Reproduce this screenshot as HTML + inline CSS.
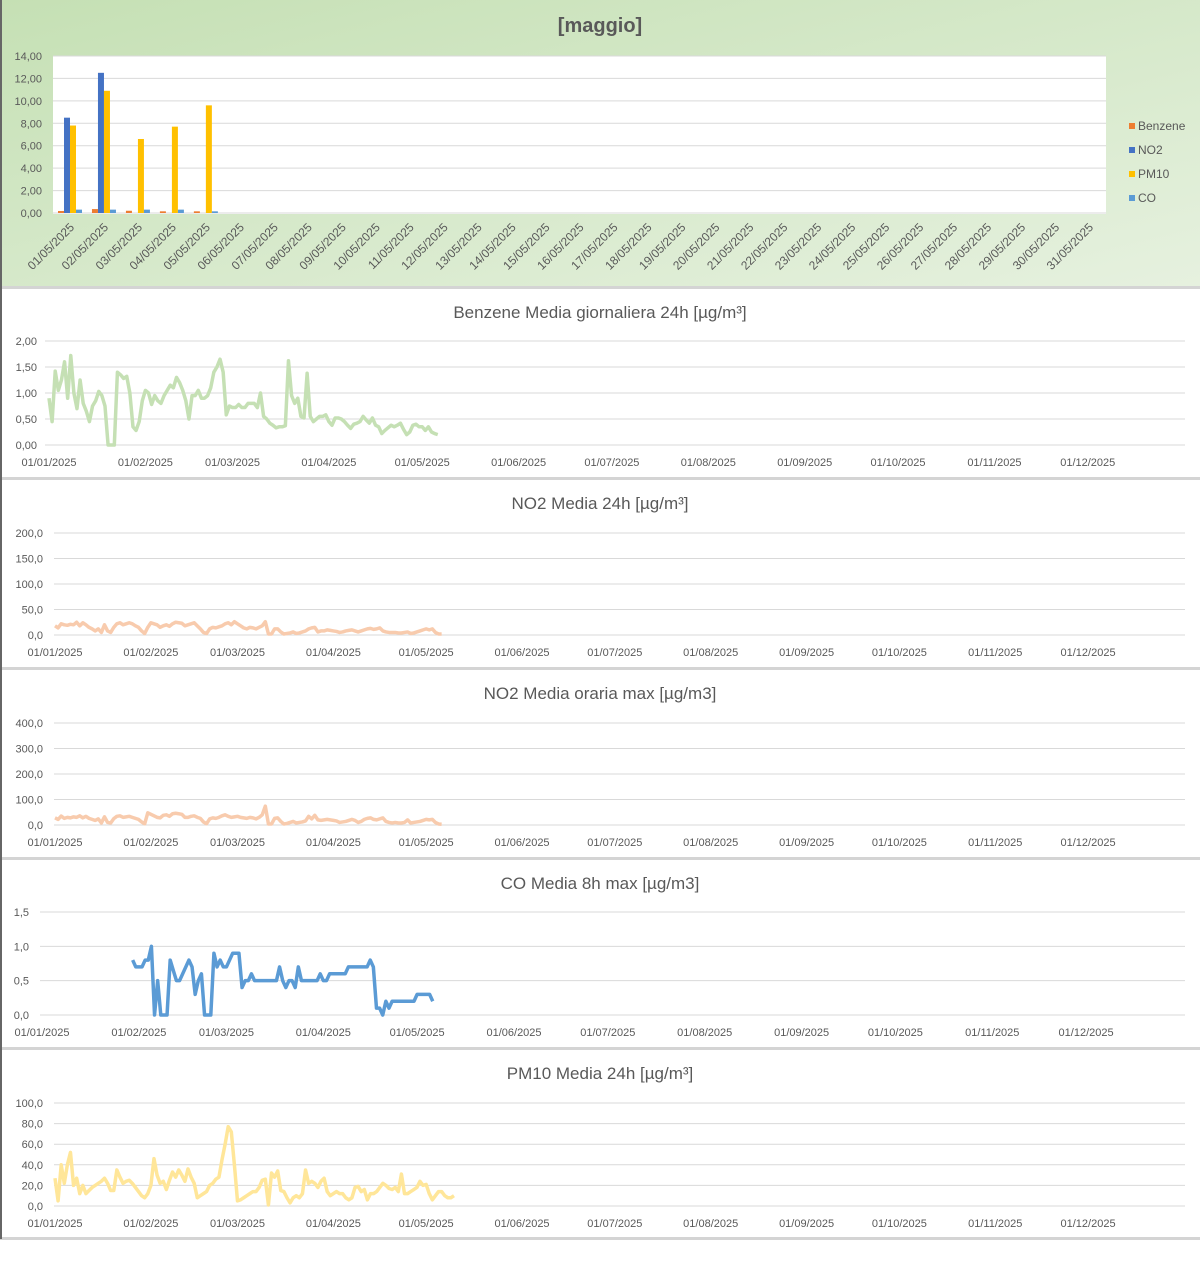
<!DOCTYPE html>
<html><head><meta charset="utf-8"><style>
body{margin:0;background:#fff;}
svg{display:block;font-family:"Liberation Sans",sans-serif;}
</style></head><body>
<svg id="c" width="1200" height="1267" viewBox="0 0 1200 1267">
<defs><linearGradient id="bg" x1="0" y1="0" x2="1" y2="1"><stop offset="0" stop-color="#c5e0b4"/><stop offset="1" stop-color="#e6f1df"/></linearGradient></defs>
<rect x="0" y="0" width="1200" height="286" fill="url(#bg)"/>
<text x="600" y="32" text-anchor="middle" font-size="20" font-weight="bold" fill="#595959">[maggio]</text>
<rect x="53" y="56" width="1053" height="158" fill="#fff"/>
<g id="bars"></g>
<g id="lines"></g>
<rect x="0" y="0" width="2" height="1239" fill="#666"/>
</svg>
<script>
const NS="http://www.w3.org/2000/svg";
const svg=document.getElementById('c');
function mk(tag,attrs,parent,txt){const e=document.createElementNS(NS,tag);for(const k in attrs)e.setAttribute(k,attrs[k]);if(txt!==undefined)e.textContent=txt;(parent||svg).appendChild(e);return e;}

// ---- bar chart data ----
const barDays=Array.from({length:31},(_,i)=>String(i+1).padStart(2,'0')+'/05/2025');
const barTicks=[0,2,4,6,8,10,12,14];
const benzeneBar=[0.18,0.35,0.2,0.15,0.15];
const no2Bar=[8.5,12.5,0,0,0];
const pm10Bar=[7.8,10.9,6.6,7.7,9.6];
const coBar=[0.3,0.3,0.3,0.3,0.15];

// ---- line chart data ----
const monthLabels=['01/01/2025','01/02/2025','01/03/2025','01/04/2025','01/05/2025','01/06/2025','01/07/2025','01/08/2025','01/09/2025','01/10/2025','01/11/2025','01/12/2025'];
const monthDays=[0,31,59,90,120,151,181,212,243,273,304,334];
const benzene=[0.9,0.45,1.42,1.05,1.25,1.6,0.9,1.72,1.0,0.7,1.25,0.8,0.65,0.45,0.75,0.85,1.03,0.95,0.75,0,0,0,1.4,1.35,1.28,1.32,1.0,0.35,0.28,0.45,0.85,1.05,1.0,0.78,0.95,0.85,0.8,0.95,1.05,1.15,1.1,1.3,1.2,1.05,0.85,0.5,0.95,0.95,1.05,0.9,0.9,0.95,1.1,1.4,1.5,1.65,1.4,0.58,0.75,0.72,0.72,0.78,0.72,0.72,0.8,0.8,0.8,0.72,1.0,0.55,0.5,0.42,0.38,0.33,0.35,0.35,0.37,1.62,0.95,0.8,0.9,0.55,0.52,1.38,0.55,0.45,0.5,0.55,0.55,0.58,0.45,0.38,0.52,0.52,0.5,0.45,0.38,0.32,0.4,0.42,0.45,0.55,0.48,0.42,0.52,0.38,0.35,0.22,0.28,0.33,0.38,0.35,0.38,0.42,0.3,0.2,0.25,0.38,0.4,0.35,0.35,0.28,0.35,0.25,0.22,0.2];
const no2Daily=[18,14,22,20,19,21,20,25,18,24,20,15,12,8,12,5,20,8,5,15,22,24,20,22,24,22,18,15,8,3,15,24,22,20,15,18,20,17,22,25,24,23,18,20,22,24,18,12,5,3,12,15,14,16,18,22,24,20,26,22,18,14,12,15,14,12,15,18,26,2,2,12,12,6,2,3,4,6,3,4,6,8,12,14,15,6,8,8,10,9,8,7,5,6,8,9,10,8,6,8,10,12,13,11,12,14,8,6,5,5,5,4,4,5,6,3,4,6,8,10,12,10,12,5,2,2];
const no2Max=[28,22,35,26,30,28,32,30,36,28,34,26,22,18,24,8,32,10,8,25,34,36,30,32,34,30,26,22,12,5,48,42,36,30,28,38,40,34,44,46,44,42,30,30,34,36,30,26,12,5,24,28,26,30,36,40,34,30,32,34,30,28,26,30,28,24,30,40,74,4,4,26,28,14,4,6,10,14,8,10,12,16,34,24,38,20,18,20,22,20,18,16,10,12,14,18,22,18,10,14,22,26,28,22,20,24,28,14,10,8,10,8,8,10,20,8,10,12,14,18,22,20,22,10,4,3];
const coStart=29;
const coValues=[0.8,0.7,0.7,0.7,0.8,0.8,1.0,0,0.5,0,0,0,0.8,0.65,0.5,0.5,0.6,0.7,0.8,0.7,0.3,0.5,0.6,0,0,0,0.9,0.7,0.8,0.7,0.7,0.8,0.9,0.9,0.9,0.4,0.5,0.5,0.6,0.5,0.5,0.5,0.5,0.5,0.5,0.5,0.5,0.7,0.5,0.4,0.5,0.5,0.4,0.7,0.5,0.5,0.5,0.5,0.5,0.5,0.6,0.5,0.5,0.6,0.6,0.6,0.6,0.6,0.6,0.7,0.7,0.7,0.7,0.7,0.7,0.7,0.8,0.7,0.1,0.1,0,0.2,0.1,0.2,0.2,0.2,0.2,0.2,0.2,0.2,0.2,0.3,0.3,0.3,0.3,0.3,0.2];
const pm10=[27,5,40,22,40,52,20,27,12,20,12,15,18,20,22,24,27,22,15,15,35,28,22,24,25,22,18,14,10,8,12,20,46,30,22,24,16,25,33,28,35,30,24,36,28,22,8,10,12,14,20,22,26,28,45,60,77,72,40,5,6,8,10,12,14,14,18,25,26,1,32,28,34,15,14,8,3,8,10,8,12,35,22,24,22,18,24,27,14,10,12,14,12,12,8,6,8,18,19,14,16,6,12,12,14,18,22,20,17,16,18,14,31,12,12,14,16,18,24,20,21,12,6,10,14,14,10,8,8,10];

// ---- bar chart ----
const bg=document.getElementById('bars');
const bx0=53,bw=1053/31,byTop=56,byBot=213,bmax=14;
const by=v=>byBot-(v/bmax)*(byBot-byTop);
barTicks.forEach(t=>{
  const l=mk('line',{x1:53,x2:1106,y1:by(t),y2:by(t),stroke:'#d9d9d9','stroke-width':1},bg);
  
  
  const tx=mk('text',{x:42,y:by(t)+4,'text-anchor':'end','font-size':11,fill:'#595959'},bg,t.toFixed(2).replace('.',','));
  
  
});
const series=[['benzene',benzeneBar,'#ed7d31'],['no2',no2Bar,'#4472c4'],['pm10',pm10Bar,'#ffc000'],['co',coBar,'#5b9bd5']];
series.forEach((s,si)=>{
  s[1].forEach((v,i)=>{
    if(!v)return;
    const x=bx0+i*bw+5+si*6;
    const r=mk('rect',{x:x,y:by(v),width:6,height:byBot-by(v),fill:s[2]},bg);
    
    
  });
});
barDays.forEach((d,i)=>{
  const cx=bx0+i*bw+bw/2+5;
  const t=mk('text',{x:cx,y:228,'text-anchor':'end','font-size':12,fill:'#595959',transform:`rotate(-45 ${cx} 228)`},bg,d);
  
  
});
[['Benzene','#ed7d31'],['NO2','#4472c4'],['PM10','#ffc000'],['CO','#5b9bd5']].forEach((l,i)=>{
  const y=128+i*24;
  const r=mk('rect',{x:1129,y:y-5,width:6,height:6,fill:l[1]},bg);
  
  
  const t=mk('text',{x:1138,y:y+2,'font-size':12,fill:'#595959'},bg,l[0]);
  
  
});

// ---- line panels ----
const lg=document.getElementById('lines');
[287,478,668,858,1048,1238].forEach(y=>{
  const r=mk('rect',{x:0,y:y-1,width:1200,height:3,fill:'#d4d4d4'},lg);
  
  
});
function panel(cfg){
  const g=mk('g',{},lg);
  
  
  const t=mk('text',{x:600,y:cfg.titleY,'text-anchor':'middle','font-size':17,fill:'#595959'},g,cfg.title);
  
  
  const ys=v=>cfg.yBot-(v/cfg.max)*(cfg.yBot-cfg.yTop);
  const xs=d=>cfg.x0+d*cfg.ppd;
  cfg.ticks.forEach(v=>{
    const l=mk('line',{x1:cfg.gx,x2:1185,y1:ys(v),y2:ys(v),stroke:'#d9d9d9','stroke-width':1},g);
    
    
    const tx=mk('text',{x:cfg.lx,y:ys(v)+4,'text-anchor':'end','font-size':11,fill:'#595959'},g,v.toFixed(cfg.dec).replace('.',','));
    
    
  });
  monthLabels.forEach((m,i)=>{
    const tx=mk('text',{x:xs(monthDays[i]),y:cfg.labY+4,'text-anchor':'middle','font-size':11,fill:'#595959'},g,m);
    
    
  });
  const pts=cfg.data.map((v,i)=>xs(i+cfg.start)+','+ys(v)).join(' ');
  const p=mk('polyline',{points:pts,fill:'none',stroke:cfg.color,'stroke-width':cfg.sw||3.5,'stroke-linejoin':'round'},g);
  
  
}
panel({name:'benzene-chart',title:'Benzene Media giornaliera 24h [µg/m³]',titleY:318,yTop:341,yBot:445,max:2,ticks:[0,0.5,1,1.5,2],dec:2,gx:45,lx:37,x0:49,ppd:3.11,labY:462,data:benzene,start:0,color:'#c5e0b4'});
panel({name:'no2-daily-chart',title:'NO2 Media 24h [µg/m³]',titleY:509,yTop:533,yBot:635,max:200,ticks:[0,50,100,150,200],dec:1,gx:54,lx:43,x0:55,ppd:3.093,labY:652,data:no2Daily,start:0,color:'#f8cbad'});
panel({name:'no2-hourly-max-chart',title:'NO2 Media oraria max [µg/m3]',titleY:699,yTop:723,yBot:825,max:400,ticks:[0,100,200,300,400],dec:1,gx:54,lx:43,x0:55,ppd:3.093,labY:842,data:no2Max,start:0,color:'#f8cbad'});
panel({name:'co-chart',title:'CO Media 8h max [µg/m3]',titleY:889,yTop:912,yBot:1015,max:1.5,ticks:[0,0.5,1,1.5],dec:1,gx:40,lx:29,x0:42,ppd:3.126,labY:1032,data:coValues,start:coStart,color:'#5b9bd5',sw:3.5});
panel({name:'pm10-chart',title:'PM10 Media 24h [µg/m³]',titleY:1079,yTop:1103,yBot:1206,max:100,ticks:[0,20,40,60,80,100],dec:1,gx:54,lx:43,x0:55,ppd:3.093,labY:1223,data:pm10,start:0,color:'#ffe699'});
</script>
</body></html>
